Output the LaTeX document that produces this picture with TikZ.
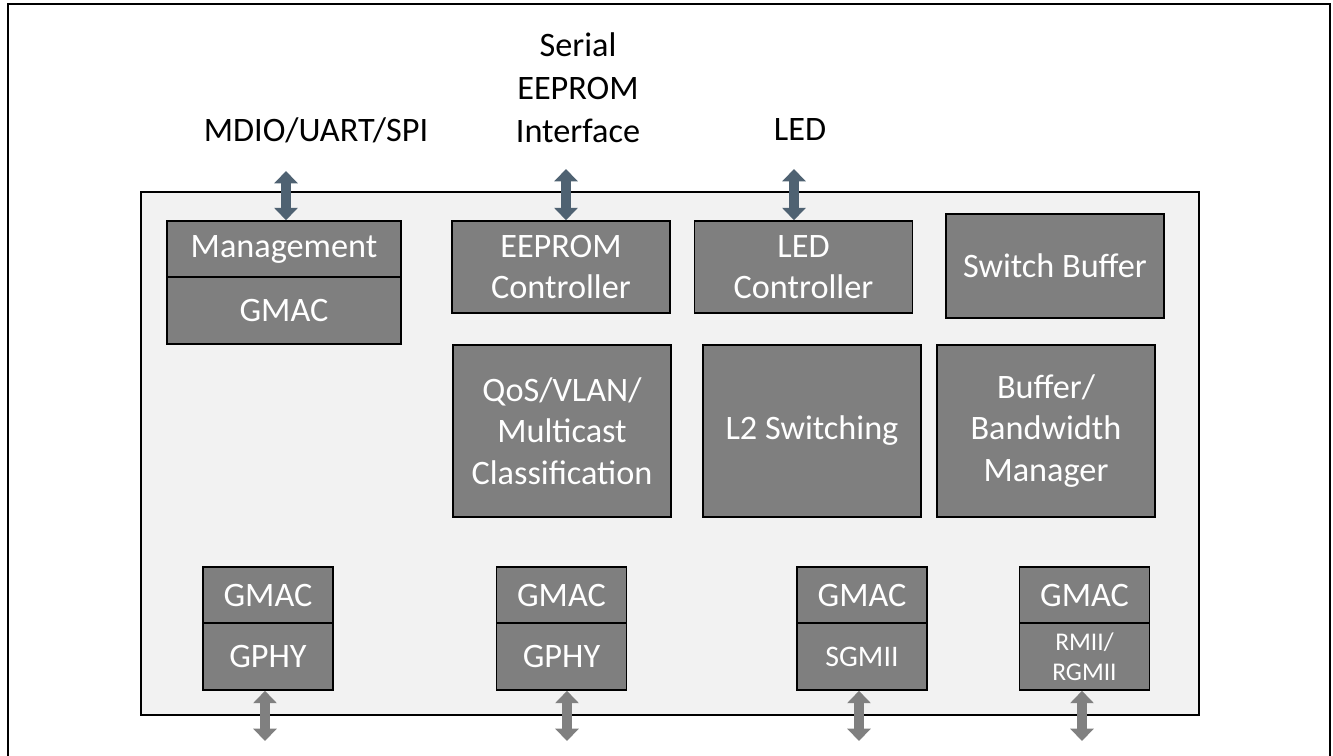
\documentclass[tikz,border=0pt]{standalone}
\usepackage{fontspec}
\setmainfont{Carlito}
\usepackage{tikz}
\usetikzlibrary{arrows.meta}

\definecolor{blockgray}{HTML}{7F7F7F}
\definecolor{chipbg}{HTML}{F2F2F2}
\definecolor{slate}{HTML}{4F6272}
\definecolor{portgray}{HTML}{808080}

\begin{document}
\begin{tikzpicture}[x=0.02cm,y=-0.02cm,
 			block/.style={draw=black,fill=blockgray,text=white,line width=0.9pt,
 				inner sep=0pt,align=center,font=\fontsize{19.5}{23.6}\selectfont},
 			wide block/.style={block,minimum width=4.36cm},
 			port block/.style={block,minimum width=2.6cm},
 			label text/.style={align=center,font=\fontsize{19.5}{24.4}\selectfont},
 			top link/.style={draw=slate,line width=6pt,
 				{Triangle[width=13pt,length=7pt]}-{Triangle[width=13pt,length=7pt]}},
 			bottom link/.style={top link,draw=portgray}]
 			
 			\useasboundingbox (0,0) rectangle (1333,755);
 			\draw[line width=1pt] (8,760) -- (8,4) -- (1330,4) -- (1330,760);
 			\draw[fill=chipbg,line width=0.9pt] (141,192) rectangle (1199,715);
 			
 			\node[label text] (mdio) at (316,130) {MDIO/UART/SPI};
 			\node[label text] (serial) at (578,88) {Serial\\EEPROM\\Interface};
 			\node[label text] (ledpin) at (800,130) {LED};
 			
 			\node[block,minimum width=4.68cm,minimum height=1.12cm] (mgmt) at (284,249) {Management};
 			\node[block,minimum width=4.68cm,minimum height=1.34cm] (gmac0) at (284,310.5) {GMAC};
 			\node[wide block,minimum height=1.84cm] (eeprom) at (561,267) {EEPROM\\Controller};
 			\node[wide block,minimum height=1.84cm] (ledctl) at (803.5,267) {LED\\Controller};
 			\node[wide block,minimum height=2.08cm] (swbuf) at (1055,266) {Switch Buffer};
 			\node[wide block,minimum height=3.44cm] (qos) at (562,431) {QoS/VLAN/\\Multicast\\Classification};
 			\node[wide block,minimum height=3.44cm] (l2) at (812,431) {L2 Switching};
 			\node[wide block,minimum height=3.44cm] (bwm) at (1046,431) {Buffer/\\Bandwidth\\Manager};
 			
 			\node[port block,minimum height=1.12cm] (gmac1) at (268,595) {GMAC};
 			\node[port block,minimum height=1.34cm] (gphy1) at (268,656.5) {GPHY};
 			\node[port block,minimum height=1.12cm] (gmac2) at (561.5,595) {GMAC};
 			\node[port block,minimum height=1.34cm] (gphy2) at (561.5,656.5) {GPHY};
 			\node[port block,minimum height=1.12cm] (gmac3) at (862,595) {GMAC};
 			\node[port block,minimum height=1.34cm,font=\fontsize{17}{20}\selectfont] (sgmii) at (862,656.5) {SGMII};
 			\node[port block,minimum height=1.34cm,font=\fontsize{14.5}{17.2}\selectfont] (rgmii) at (1084.5,656.5) {RMII/\\RGMII};
 			\node[port block,minimum height=1.12cm] (gmac4) at (1084.5,595) {GMAC};
 			
 			\coordinate (mdioend) at (286,171);
 			\coordinate (eeend) at (566,169);
 			\coordinate (ledend) at (794,169);
 			\coordinate (p1end) at (265,741);
 			\coordinate (p2end) at (567,741);
 			\coordinate (p3end) at (859,741);
 			\coordinate (p4end) at (1082,741);
 			
 			\draw[top link] (mdioend) -- (mdioend |- mgmt.north);
 			\draw[top link] (eeend) -- (eeend |- eeprom.north);
 			\draw[top link] (ledend) -- (ledend |- ledctl.north);
 			\draw[bottom link] (p1end |- gphy1.south) -- (p1end);
 			\draw[bottom link] (p2end |- gphy2.south) -- (p2end);
 			\draw[bottom link] (p3end |- sgmii.south) -- (p3end);
 			\draw[bottom link] (p4end |- rgmii.south) -- (p4end);
 		\end{tikzpicture}
\end{document}
